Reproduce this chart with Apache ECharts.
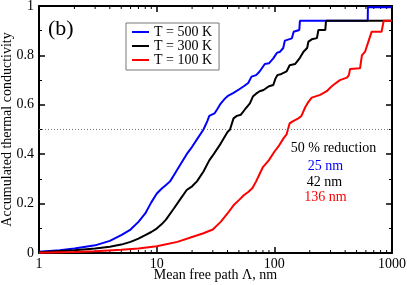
<!DOCTYPE html>
<html>
<head>
<meta charset="utf-8">
<script src="https://cdn.jsdelivr.net/npm/echarts@6/dist/echarts.min.js"></script>
<style>html,body{margin:0;padding:0;background:#fff}#c{width:407px;height:285px}</style>
</head>
<body>
<div id="c"></div>
<script>
// Mean free path (nm) and accumulated thermal conductivity, per temperature
var blue500 = [[1,0.005],[1.5,0.011],[2,0.018],[3,0.031],[4,0.049],[5,0.072],[6,0.095],[7,0.126],[8,0.16],[9,0.205],[10,0.24],[11,0.26],[12,0.275],[13,0.29],[14,0.315],[16,0.36],[18,0.40],[20,0.43],[22,0.46],[25,0.50],[27,0.535],[28,0.555],[31,0.565],[33,0.585],[35,0.605],[38,0.625],[40,0.635],[45,0.648],[50,0.662],[55,0.675],[60,0.688],[64,0.714],[70,0.72],[75,0.735],[83,0.765],[90,0.768],[98,0.788],[105,0.81],[112,0.815],[119,0.83],[123,0.86],[141,0.869],[146,0.896],[163,0.903],[165,0.94],[622,0.94],[624,0.995],[1000,0.995]];
var black300 = [[1,0.003],[2,0.011],[3,0.018],[4,0.025],[5,0.034],[6,0.045],[7,0.058],[8,0.072],[9,0.085],[10,0.099],[11,0.116],[12,0.135],[14,0.18],[16,0.22],[18,0.255],[20,0.27],[22,0.29],[25,0.33],[28,0.375],[30,0.395],[35,0.443],[40,0.49],[42,0.50],[45,0.545],[48,0.555],[52,0.56],[56,0.58],[62,0.606],[66,0.635],[70,0.645],[75,0.655],[81,0.66],[90,0.675],[98,0.68],[102,0.705],[106,0.72],[115,0.725],[127,0.735],[135,0.76],[150,0.765],[165,0.79],[177,0.815],[190,0.83],[195,0.856],[208,0.865],[230,0.87],[237,0.903],[271,0.903],[275,0.94],[1000,0.94]];
var red100 = [[1,0.001],[2,0.004],[3,0.007],[5,0.013],[7,0.018],[10,0.027],[15,0.045],[20,0.065],[25,0.08],[30,0.095],[35,0.126],[40,0.16],[45,0.193],[50,0.214],[55,0.234],[60,0.247],[65,0.262],[70,0.29],[75,0.32],[80,0.348],[90,0.376],[100,0.41],[110,0.436],[120,0.465],[127,0.48],[135,0.525],[141,0.531],[150,0.538],[160,0.545],[170,0.555],[183,0.59],[195,0.612],[208,0.629],[245,0.64],[279,0.655],[300,0.67],[317,0.68],[361,0.70],[414,0.71],[430,0.72],[440,0.745],[535,0.748],[555,0.80],[590,0.815],[630,0.856],[672,0.896],[815,0.896],[850,0.94],[1000,0.94]];
var seriesNames = ['T = 500 K','T = 300 K','T = 100 K'];
var reductionLabels = ['25 nm','42 nm','136 nm'];
var halfLevel = 0.5;
var xMinorTicks = [2,3,4,5,6,7,8,9,20,30,40,50,60,70,80,90,200,300,400,500,600,700,800,900];

var FONT = "'Liberation Serif','DejaVu Serif',serif";
var chart = echarts.init(document.getElementById('c'), null, {renderer:'canvas'});
function axisBase(){
  return {
    axisLine:{show:true,onZero:false,lineStyle:{color:'#000',width:2}},
    axisTick:{show:true,inside:true,length:6,lineStyle:{color:'#000',width:1.5}},
    splitLine:{show:false}
  };
}
var xBottom = Object.assign(axisBase(), {
  type:'log', logBase:10, min:1, max:1000, position:'bottom',
  axisLabel:{color:'#000',fontFamily:FONT,fontSize:14,margin:4,formatter:function(v){return String(Math.round(v));}},
  name:'Mean free path \u039B, nm', nameLocation:'middle', nameGap:15, nameMoveOverlap:false,
  nameTextStyle:{color:'#000',fontFamily:FONT,fontSize:14}
});
var xTop = Object.assign(axisBase(), {
  type:'log', logBase:10, min:1, max:1000, position:'top',
  axisLabel:{show:false}
});
var yLeft = Object.assign(axisBase(), {
  type:'value', min:0, max:1, interval:0.2, position:'left',
  minorTick:{show:true,splitNumber:2,length:3,lineStyle:{color:'#000',width:1}},
  axisLabel:{color:'#000',fontFamily:FONT,fontSize:14,margin:5},
  name:'Accumulated thermal conductivity', nameLocation:'middle', nameGap:25, nameMoveOverlap:false,
  nameTextStyle:{color:'#000',fontFamily:FONT,fontSize:14}
});
var yRight = Object.assign(axisBase(), {
  type:'value', min:0, max:1, interval:0.2, position:'right',
  minorTick:{show:true,splitNumber:2,length:3,lineStyle:{color:'#000',width:1}},
  axisLabel:{show:false}
});
function lineSeries(name, data, color, extra){
  return Object.assign({
    type:'line', name:name, data:data, showSymbol:false, symbol:'none',
    xAxisIndex:0, yAxisIndex:0,
    lineStyle:{color:color,width:2}, itemStyle:{color:color},
    animation:false, z:3
  }, extra||{});
}
var option = {
  animation:false,
  grid:{left:39,right:15,top:6,bottom:32,containLabel:false,outerBoundsMode:'none'},
  legend:{
    data:seriesNames, orient:'vertical', left:126, top:23,
    padding:[2,7,3,6], itemGap:0, itemWidth:17, itemHeight:2, icon:'rect',
    borderColor:'#777', borderWidth:1, backgroundColor:'#fff',
    textStyle:{color:'#000',fontFamily:FONT,fontSize:14,lineHeight:14}
  },
  xAxis:[xBottom, xTop],
  yAxis:[yLeft, yRight],
  series:[
    lineSeries(seriesNames[0], blue500, '#0000ff', {
      markLine:{silent:true,symbol:'none',label:{show:false},
        lineStyle:{color:'#777',type:[1,2],width:1},
        data:[{yAxis:halfLevel}], animation:false}
    }),
    lineSeries(seriesNames[1], black300, '#000000'),
    lineSeries(seriesNames[2], red100, '#ff0000'),
    {
      type:'custom', xAxisIndex:0, yAxisIndex:0, silent:true, clip:false,
      data:xMinorTicks.map(function(v){return [v];}),
      renderItem:function(params, api){
        var b = api.coord([api.value(0), 0]);
        var t = api.coord([api.value(0), 1]);
        var st = {stroke:'#000', lineWidth:1};
        return {type:'group', children:[
          {type:'line', shape:{x1:b[0],y1:b[1],x2:b[0],y2:b[1]-3}, style:st},
          {type:'line', shape:{x1:t[0],y1:t[1],x2:t[0],y2:t[1]+3}, style:st}
        ]};
      },
      animation:false
    }
  ],
  graphic:[
    {type:'text', left:48, top:18, style:{text:'(b)', font:'22px '+FONT, fill:'#000'}},
    {type:'text', x:333.5, y:148.5, style:{text:'50 % reduction', font:'14px '+FONT, fill:'#000', textAlign:'center', textVerticalAlign:'middle'}},
    {type:'text', x:325.5, y:166, style:{text:reductionLabels[0], font:'14px '+FONT, fill:'#0000ff', textAlign:'center', textVerticalAlign:'middle'}},
    {type:'text', x:324.5, y:182.5, style:{text:reductionLabels[1], font:'14px '+FONT, fill:'#000', textAlign:'center', textVerticalAlign:'middle'}},
    {type:'text', x:325.5, y:197.5, style:{text:reductionLabels[2], font:'14px '+FONT, fill:'#ff0000', textAlign:'center', textVerticalAlign:'middle'}}
  ]
};
chart.setOption(option);
</script>
</body>
</html>
